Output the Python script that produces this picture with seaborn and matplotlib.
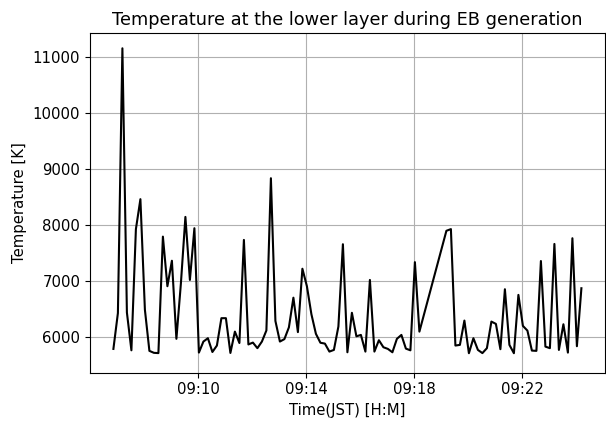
import matplotlib
matplotlib.use("Agg")
import matplotlib.pyplot as plt
import matplotlib.dates as mdates
import pandas as pd
import seaborn as sns

# Sampling: one value every 10 s starting at 09:06:51 (None = missing sample)
start_time = "2020-01-01 09:06:51"
sample_seconds = 10
temperature = [
    5780, 6420, 11150, 6430, 5755, 7920, 8455, 6480, 5745, 5710,
    5705, 7786, 6900, 7355, 5960, 6950, 8138, 7012, 7936, 5714,
    5911, 5971, 5725, 5840, 6329, 6329, 5708, 6089, 5885, 7727,
    5860, 5893, 5793, 5911, 6110, 8829, 6280, 5911, 5955, 6165,
    6695, 6080, 7212, 6900, 6400, 6050, 5890, 5875, 5732, 5762,
    6180, 7650, 5720, 6425, 6005, 6030, 5732, 7012, 5732, 5935,
    5810, 5780, 5720, 5960, 6030, 5785, 5755, 7330, 6089, None,
    None, None, None, None, 7890, 7920, 5840, 5852, 6286, 5703,
    5971, 5762, 5705, 5793, 6268, 6227, 5775, 6846, 5852, 5703,
    6745, 6191, 6107, 5750, 5745, 7350, 5821, 5793, 7655, 5762,
    6220, 5714, 7757, 5828, 6864,
]
tick_minutes = [10, 14, 18, 22]

times = pd.date_range(start_time, periods=len(temperature), freq=f"{sample_seconds}s")
df = pd.DataFrame({"time": times, "temp": temperature}).dropna()

plt.rcParams["font.size"] = 10.7

fig = plt.figure(figsize=(6.06, 4.22), dpi=100)
ax = fig.add_axes([90 / 606, (422 - 372.7) / 422, 514.8 / 606, (372.7 - 33.3) / 422])

sns.lineplot(data=df, x="time", y="temp", color="black", linewidth=1.5, ax=ax)

ax.set_ylim(5355, 11418)
ax.xaxis.set_major_locator(mdates.MinuteLocator(byminute=tick_minutes))
ax.xaxis.set_major_formatter(mdates.DateFormatter("%H:%M"))
ax.tick_params(labelsize=10.7)
ax.grid(True)
ax.set_title("Temperature at the lower layer during EB generation", fontsize=12.8)
ax.set_xlabel("Time(JST) [H:M]", fontsize=10.7)
ax.set_ylabel("Temperature [K]", fontsize=10.7)

fig.savefig("out.png", dpi=100)
